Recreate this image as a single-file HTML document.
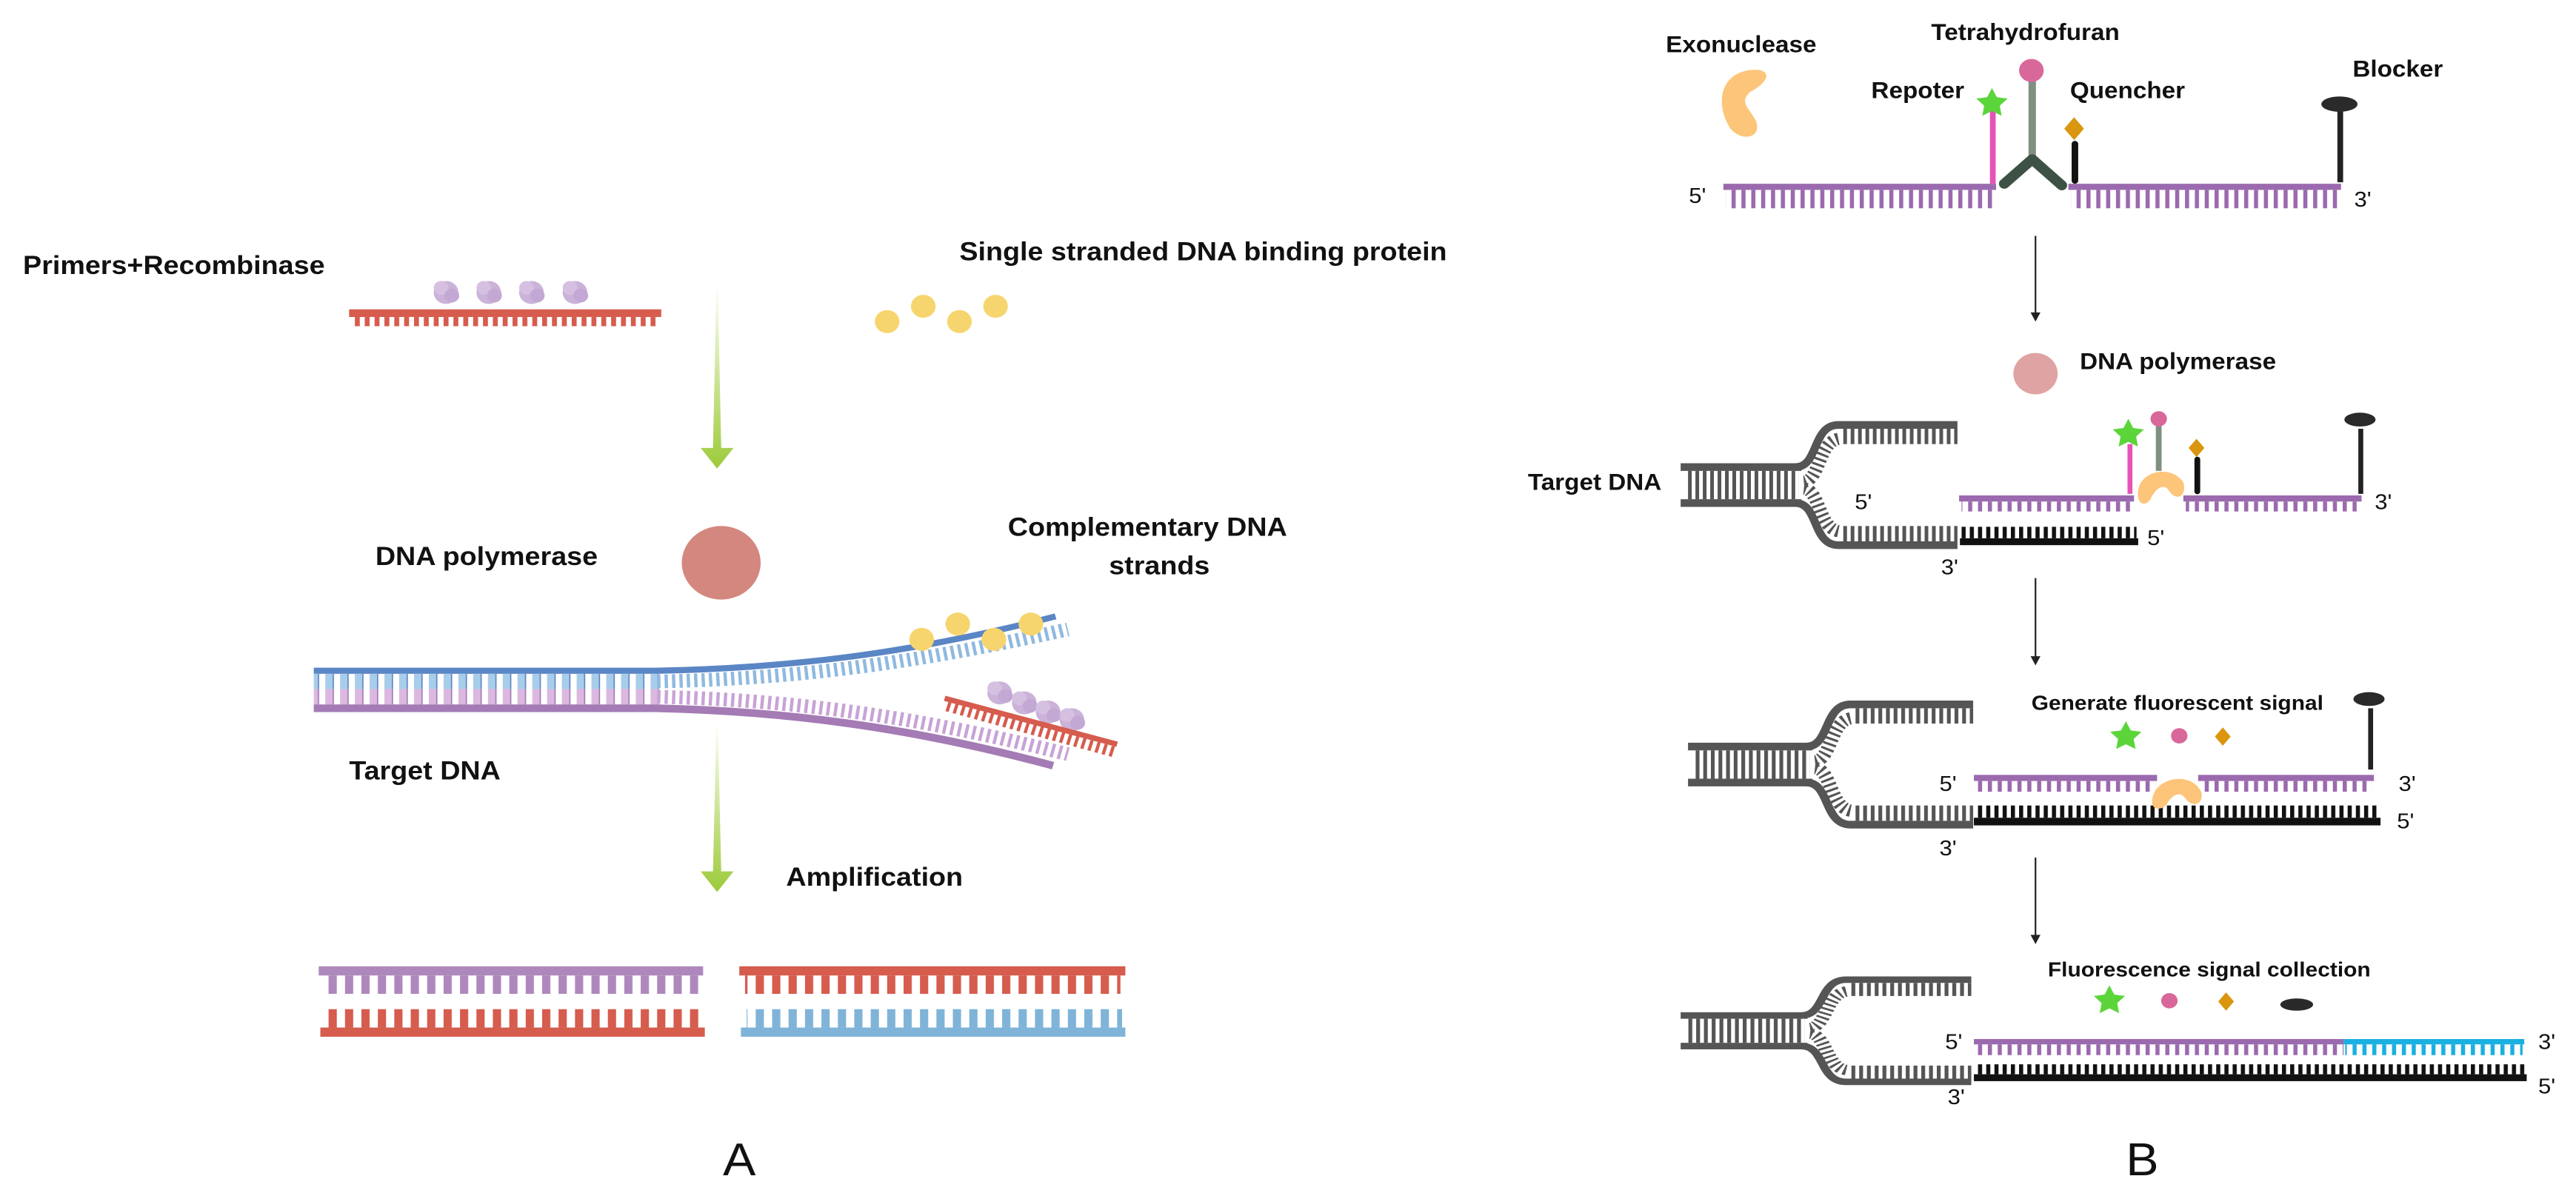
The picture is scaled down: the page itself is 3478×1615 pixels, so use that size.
<!DOCTYPE html>
<html><head><meta charset="utf-8"><style>
html,body{margin:0;padding:0;background:#fff;}
svg{display:block}
text{font-family:"Liberation Sans",Arial,sans-serif;fill:#111}
.b{font-weight:bold}
</style></head><body>
<svg width="3478" height="1615" viewBox="0 0 3136 1562" preserveAspectRatio="none" xmlns="http://www.w3.org/2000/svg">
<defs>
<pattern id="pg" patternUnits="userSpaceOnUse" width="9" height="10"><rect width="4.5" height="10" fill="#555"/></pattern>
<pattern id="pp" patternUnits="userSpaceOnUse" width="12" height="10"><rect width="5" height="10" fill="#9b6aae"/></pattern>
<pattern id="pa" patternUnits="userSpaceOnUse" width="20" height="10"><rect width="10" height="10" fill="#ae88bd"/></pattern>
<pattern id="pr" patternUnits="userSpaceOnUse" width="20" height="10"><rect width="10" height="10" fill="#d65c4e"/></pattern>
<pattern id="pr2" patternUnits="userSpaceOnUse" width="12" height="10"><rect width="6" height="10" fill="#d65c4e"/></pattern>
<pattern id="pb" patternUnits="userSpaceOnUse" width="20" height="10"><rect width="10" height="10" fill="#7fb4d8"/></pattern>
<pattern id="pk" patternUnits="userSpaceOnUse" width="10" height="10"><rect width="5" height="10" fill="#111"/></pattern>
<pattern id="pc" patternUnits="userSpaceOnUse" width="12" height="10"><rect width="5" height="10" fill="#1ab0e0"/></pattern>
<pattern id="plb" patternUnits="userSpaceOnUse" width="18" height="10"><rect width="9" height="10" fill="#a8cdea"/><rect x="9" width="1.5" height="10" fill="#5b86c5"/></pattern>
<pattern id="ppk" patternUnits="userSpaceOnUse" width="18" height="10"><rect width="9" height="10" fill="#dcb8e0"/><rect x="9" width="1.5" height="10" fill="#a47bb5"/></pattern>
<linearGradient id="gg" x1="0" y1="0" x2="0" y2="1"><stop offset="0" stop-color="#fbfdf2"/><stop offset="1" stop-color="#9ccb3a"/></linearGradient>
<g id="fork">
  <rect x="0" y="0" width="147" height="10" fill="#555"/>
  <rect x="0" y="47" width="147" height="10" fill="#555"/>
  <rect x="6" y="10" width="138" height="37" fill="url(#pg)"/>
  <path d="M140,5 C168,5 160,-50 192,-50 H337" stroke="#555" stroke-width="10" fill="none"/>
  <path d="M140,52 C168,52 160,107 192,107 H337" stroke="#555" stroke-width="10" fill="none"/>
  <path d="M150,24 C170,22 168,-30 194,-32" stroke="#555" stroke-width="16" stroke-dasharray="3 4" fill="none"/>
  <path d="M150,33 C170,35 168,87 194,89" stroke="#555" stroke-width="16" stroke-dasharray="3 4" fill="none"/>
  <rect x="196" y="-45" width="141" height="20" fill="url(#pg)"/>
  <rect x="196" y="82" width="141" height="20" fill="url(#pg)"/>
</g>
<path id="exo" d="M16,-34 C-20,-36 -30,0 -12,30 C0,45 20,40 14,22 C8,8 -4,2 8,-10 C26,-20 30,-32 16,-34 Z" fill="#fdc57a"/>
<polygon id="star" points="0,-20 5.9,-8.1 19,-6.2 9.5,3.1 11.8,16.2 0,10 -11.8,16.2 -9.5,3.1 -19,-6.2 -5.9,-8.1" fill="#5bd53a"/>
<polygon id="dia" points="0,-15 12,0 0,15 -12,0" fill="#d9960e"/>
<g id="blob"><circle r="15" fill="#cbb2d9"/><circle cx="-6" cy="-6" r="9" fill="#d6c0e2"/><circle cx="7" cy="4" r="9" fill="#c3a8d3"/></g>
</defs>

<!-- ===== Panel A ===== -->
<text x="28" y="358" font-size="34" class="b">Primers+Recombinase</text>
<use href="#blob" x="543" y="382"/><use href="#blob" x="595" y="382"/><use href="#blob" x="647" y="382"/><use href="#blob" x="700" y="382"/>
<rect x="425" y="404" width="380" height="10" fill="#d65c4e"/>
<rect x="431" y="414" width="370" height="12" fill="url(#pr2)"/>

<text x="1168" y="340" font-size="34" class="b">Single stranded DNA binding protein</text>
<g fill="#f7d56e"><circle cx="1080" cy="420" r="15"/><circle cx="1124" cy="400" r="15"/><circle cx="1168" cy="420" r="15"/><circle cx="1212" cy="400" r="15"/></g>

<polygon points="872,380 874,380 878,585 893,585 873,612 853,585 868,585" fill="url(#gg)"/>
<polygon points="872,950 874,950 878,1138 893,1138 873,1165 853,1138 868,1138" fill="url(#gg)"/>

<text x="457" y="738" font-size="34" class="b">DNA polymerase</text>
<circle cx="878" cy="735" r="48" fill="#d4877e"/>
<path d="M920,752 A48,48 0 0 1 850,775 A48,48 0 0 0 920,752 Z" fill="#b86e66"/>

<text x="1227" y="700" font-size="34" class="b">Complementary DNA</text>
<text x="1350" y="750" font-size="34" class="b">strands</text>

<!-- duplex -->
<rect x="382" y="872" width="420" height="8" fill="#5b86c5"/>
<rect x="382" y="880" width="420" height="20" fill="url(#plb)"/>
<rect x="382" y="900" width="420" height="20" fill="url(#ppk)"/>
<rect x="382" y="920" width="420" height="10" fill="#a47bb5"/>
<path d="M800,876 C1000,872 1150,842 1285,805" stroke="#5b86c5" stroke-width="8" fill="none"/>
<path d="M800,890 C1000,886 1150,857 1300,822" stroke="#8fb9e0" stroke-width="18" stroke-dasharray="4 5" fill="none"/>
<path d="M800,910 C1000,915 1150,945 1300,985" stroke="#c8a3d6" stroke-width="18" stroke-dasharray="4 5" fill="none"/>
<path d="M800,925 C1000,930 1150,962 1282,1000" stroke="#a47bb5" stroke-width="10" fill="none"/>
<g fill="#f7d56e"><circle cx="1122" cy="835" r="15"/><circle cx="1166" cy="815" r="15"/><circle cx="1210" cy="835" r="15"/><circle cx="1255" cy="815" r="15"/></g>
<use href="#blob" x="1217" y="905"/><use href="#blob" x="1247" y="918"/><use href="#blob" x="1276" y="930"/><use href="#blob" x="1305" y="940"/>
<path d="M1150,912 L1360,972" stroke="#d65c4e" stroke-width="7" fill="none"/>
<path d="M1153,922 L1356,982" stroke="#d65c4e" stroke-width="14" stroke-dasharray="4 5" fill="none"/>

<text x="425" y="1018" font-size="34" class="b">Target DNA</text>
<text x="957" y="1157" font-size="34" class="b">Amplification</text>

<rect x="388" y="1262" width="468" height="12" fill="#ae88bd"/>
<rect x="395" y="1274" width="455" height="24" fill="url(#pa)"/>
<rect x="397" y="1318" width="455" height="24" fill="url(#pr)"/>
<rect x="390" y="1342" width="468" height="12" fill="#d65c4e"/>
<rect x="900" y="1262" width="470" height="12" fill="#d65c4e"/>
<rect x="907" y="1274" width="457" height="24" fill="url(#pr)"/>
<rect x="909" y="1318" width="457" height="24" fill="url(#pb)"/>
<rect x="902" y="1342" width="468" height="12" fill="#7fb4d8"/>

<text x="900" y="1535" font-size="60" text-anchor="middle">A</text>

<!-- ===== Panel B ===== -->
<g transform="translate(1568,0)">
<text x="460" y="68" font-size="30" class="b">Exonuclease</text>
<use href="#exo" x="553" y="132" transform="translate(553,132) scale(1.2) translate(-553,-132)"/>
<text x="783" y="52" font-size="30" class="b">Tetrahydrofuran</text>
<text x="710" y="128" font-size="30" class="b">Repoter</text>
<text x="952" y="128" font-size="30" class="b">Quencher</text>
<text x="1296" y="100" font-size="30" class="b">Blocker</text>

<rect x="530" y="240" width="332" height="8" fill="#9b6aae"/>
<rect x="533" y="248" width="327" height="24" fill="url(#pp)"/>
<rect x="950" y="240" width="332" height="8" fill="#9b6aae"/>
<rect x="953" y="248" width="327" height="24" fill="url(#pp)"/>
<text x="488" y="265" font-size="28">5'</text>
<text x="1298" y="270" font-size="28">3'</text>
<line x1="858" y1="145" x2="858" y2="240" stroke="#e553b7" stroke-width="7"/>
<use href="#star" x="857" y="135"/>
<line x1="906" y1="105" x2="906" y2="205" stroke="#7f8f80" stroke-width="9"/>
<circle cx="905" cy="92" r="15" fill="#d9689a"/>
<path d="M872,240 L906,208 L942,242" stroke="#3d5245" stroke-width="13" stroke-linecap="round" stroke-linejoin="round" fill="none"/>
<line x1="958" y1="188" x2="958" y2="236" stroke="#111" stroke-width="8" stroke-linecap="round"/>
<use href="#dia" x="957" y="168"/>
<line x1="1281" y1="140" x2="1281" y2="238" stroke="#222" stroke-width="7"/>
<ellipse cx="1280" cy="136" rx="22" ry="10" fill="#2a2a2a"/>

<line x1="910" y1="308" x2="910" y2="414" stroke="#222" stroke-width="2"/>
<polygon points="904,408 916,408 910,420" fill="#222"/>

<circle cx="910" cy="488" r="27" fill="#e0a3a3"/>
<text x="964" y="482" font-size="30" class="b">DNA polymerase</text>

<!-- fork 1 -->
<text x="292" y="640" font-size="30" class="b">Target DNA</text>
<use href="#fork" x="478" y="605"/>
<text x="690" y="665" font-size="28">5'</text>
<rect x="817" y="647" width="213" height="8" fill="#9b6aae"/>
<rect x="820" y="655" width="208" height="13" fill="url(#pp)"/>
<rect x="1090" y="647" width="217" height="8" fill="#9b6aae"/>
<rect x="1093" y="655" width="212" height="13" fill="url(#pp)"/>
<text x="1323" y="665" font-size="28">3'</text>
<rect x="818" y="703" width="217" height="9" fill="#111"/>
<rect x="820" y="688" width="213" height="15" fill="url(#pk)"/>
<text x="1046" y="712" font-size="28">5'</text>
<text x="795" y="750" font-size="28">3'</text>
<line x1="1025" y1="580" x2="1025" y2="645" stroke="#e553b7" stroke-width="6"/>
<use href="#star" x="1023" y="567"/>
<line x1="1060" y1="555" x2="1060" y2="615" stroke="#7f8f80" stroke-width="7"/>
<circle cx="1060" cy="547" r="10" fill="#d9689a"/>
<path d="M1035,650 C1030,615 1075,605 1090,630 C1095,650 1080,655 1072,640 C1065,630 1055,640 1050,652 C1045,660 1037,660 1035,650 Z" fill="#fdc57a"/>
<line x1="1107" y1="600" x2="1107" y2="642" stroke="#111" stroke-width="7" stroke-linecap="round"/>
<use href="#dia" x="1106" y="585" transform="translate(1106,585) scale(0.8) translate(-1106,-585)"/>
<line x1="1306" y1="560" x2="1306" y2="645" stroke="#222" stroke-width="6"/>
<ellipse cx="1305" cy="548" rx="19" ry="9" fill="#2a2a2a"/>

<line x1="910" y1="755" x2="910" y2="862" stroke="#222" stroke-width="2"/>
<polygon points="904,857 916,857 910,869" fill="#222"/>

<!-- fork 2 -->
<g transform="translate(487,970) scale(1.03,1)"><use href="#fork"/></g>
<text x="905" y="927" font-size="27" class="b">Generate fluorescent signal</text>
<use href="#star" x="1020" y="962"/>
<circle cx="1085" cy="961" r="10" fill="#d9689a"/>
<use href="#dia" x="1138" y="962" transform="translate(1138,962) scale(0.8) translate(-1138,-962)"/>
<ellipse cx="1316" cy="913" rx="19" ry="9" fill="#2a2a2a"/>
<line x1="1318" y1="925" x2="1318" y2="1005" stroke="#222" stroke-width="6"/>
<text x="793" y="1033" font-size="28">5'</text>
<rect x="835" y="1012" width="223" height="8" fill="#9b6aae"/>
<rect x="838" y="1020" width="218" height="14" fill="url(#pp)"/>
<rect x="1108" y="1012" width="214" height="8" fill="#9b6aae"/>
<rect x="1111" y="1020" width="209" height="14" fill="url(#pp)"/>
<text x="1352" y="1033" font-size="28">3'</text>
<rect x="835" y="1068" width="495" height="10" fill="#111"/>
<rect x="838" y="1052" width="490" height="16" fill="url(#pk)"/>
<text x="1350" y="1082" font-size="28">5'</text>
<text x="793" y="1117" font-size="28">3'</text>
<path d="M1052,1050 C1050,1015 1100,1005 1112,1035 C1115,1052 1100,1055 1092,1042 C1085,1032 1075,1040 1070,1050 C1065,1058 1054,1058 1052,1050 Z" fill="#fdc57a"/>

<line x1="910" y1="1120" x2="910" y2="1226" stroke="#222" stroke-width="2"/>
<polygon points="904,1221 916,1221 910,1233" fill="#222"/>

<!-- fork 3 -->
<g transform="translate(478,1322) scale(1.05,0.85)"><use href="#fork"/></g>
<text x="925" y="1275" font-size="27" class="b">Fluorescence signal collection</text>
<use href="#star" x="1000" y="1307"/>
<circle cx="1073" cy="1307" r="10" fill="#d9689a"/>
<use href="#dia" x="1142" y="1308" transform="translate(1142,1308) scale(0.8) translate(-1142,-1308)"/>
<ellipse cx="1228" cy="1312" rx="20" ry="8" fill="#2a2a2a"/>
<text x="800" y="1370" font-size="28">5'</text>
<rect x="835" y="1357" width="450" height="7" fill="#9b6aae"/>
<rect x="838" y="1364" width="447" height="14" fill="url(#pp)"/>
<rect x="1285" y="1357" width="220" height="7" fill="#1ab0e0"/>
<rect x="1287" y="1364" width="216" height="14" fill="url(#pc)"/>
<text x="1522" y="1370" font-size="28">3'</text>
<rect x="835" y="1403" width="673" height="9" fill="#111"/>
<rect x="838" y="1390" width="668" height="13" fill="url(#pk)"/>
<text x="1522" y="1428" font-size="28">5'</text>
<text x="803" y="1442" font-size="28">3'</text>

<text x="1040" y="1535" font-size="60" text-anchor="middle">B</text>
</g>
</svg>
</body></html>
